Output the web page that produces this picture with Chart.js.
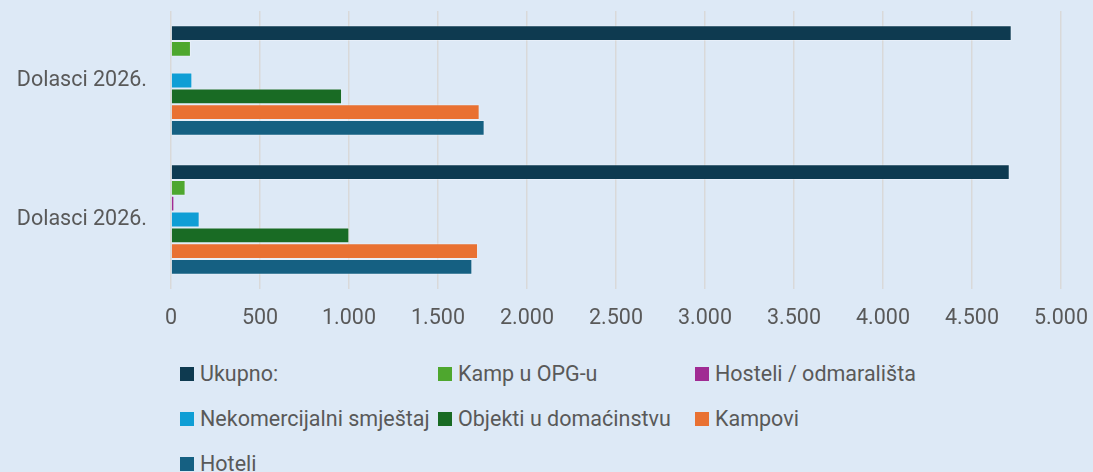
<!DOCTYPE html>
<html>
<head>
<meta charset="utf-8">
<script src="https://cdn.jsdelivr.net/npm/chart.js@4"></script>
<style>
  html, body { margin: 0; padding: 0; background: #dde9f6; }
  body { width: 1093px; height: 472px; position: relative; overflow: hidden; font-family: Roboto, sans-serif; }
  #wrap { position: absolute; left: 0; top: 0; width: 1093px; height: 345px; }
  #legend { position: absolute; left: 180px; top: 351px; display: grid; grid-template-columns: 258px 257px 257px; grid-auto-rows: 45px; }
  .item { display: flex; align-items: center; height: 45px; font-size: 21.5px; color: #595959; white-space: nowrap; }
  .box { width: 14px; height: 14px; margin-right: 6px; flex: none; }
</style>
</head>
<body>
<div id="wrap"><canvas id="chart"></canvas></div>
<div id="legend"></div>
<script>
var categories = ['Dolasci 2026.', 'Dolasci 2026.'];
var seriesNames = ['Ukupno:', 'Kamp u OPG-u', 'Hosteli / odmarališta', 'Nekomercijalni smještaj', 'Objekti u domaćinstvu', 'Kampovi', 'Hoteli'];
var seriesColors = ['#0e3a50', '#4ea72e', '#a02b93', '#0f9ed5', '#196b24', '#e97132', '#156082'];

var ukupno = [4723, 4712];
var kampOpg = [112, 82];
var hosteli = [4, 19];
var nekomercijalni = [120, 161];
var objekti = [961, 1002];
var kampovi = [1734, 1725];
var hoteli = [1762, 1693];
var seriesValues = [ukupno, kampOpg, hosteli, nekomercijalni, objekti, kampovi, hoteli];

var xTicks = [0, 500, 1000, 1500, 2000, 2500, 3000, 3500, 4000, 4500, 5000];

var textColor = '#595959';
var fontFamily = 'Roboto, sans-serif';

var datasets = seriesNames.map(function (name, i) {
  return {
    label: name,
    data: seriesValues[i],
    backgroundColor: seriesColors[i],
    borderColor: 'rgba(255,255,255,0.3)',
    borderWidth: 1,
    barPercentage: 1,
    categoryPercentage: 0.795
  };
});

var chart = new Chart(document.getElementById('chart'), {
  type: 'bar',
  data: { labels: categories, datasets: datasets },
  options: {
    indexAxis: 'y',
    animation: false,
    responsive: true,
    maintainAspectRatio: false,
    layout: { padding: { left: 0, right: 32, top: 11, bottom: 0 } },
    plugins: {
      legend: { display: false },
      tooltip: { enabled: false }
    },
    scales: {
      x: {
        type: 'linear',
        min: 0,
        max: 5000,
        afterBuildTicks: function (scale) {
          scale.ticks = xTicks.map(function (v) { return { value: v }; });
        },
        afterFit: function (scale) {
          scale.height = 56;
          scale.paddingLeft = 0;
          scale.paddingRight = 0;
        },
        grid: { color: '#d9d9d9', lineWidth: 1.5, drawTicks: false },
        border: { display: false },
        ticks: {
          padding: 17,
          color: textColor,
          font: { family: fontFamily, size: 21.5 },
          callback: function (v) { return v.toLocaleString('de-DE'); }
        }
      },
      y: {
        afterFit: function (scale) {
          scale.width = 171;
          scale.paddingTop = 0;
          scale.paddingBottom = 0;
        },
        grid: { display: false, drawTicks: false },
        border: { display: false },
        ticks: {
          padding: 24,
          color: textColor,
          font: { family: fontFamily, size: 21.5 }
        }
      }
    }
  }
});

var legend = document.getElementById('legend');
seriesNames.forEach(function (name, i) {
  var item = document.createElement('div');
  item.className = 'item';
  var box = document.createElement('span');
  box.className = 'box';
  box.style.background = seriesColors[i];
  var label = document.createElement('span');
  label.textContent = name;
  item.appendChild(box);
  item.appendChild(label);
  legend.appendChild(item);
});
</script>
</body>
</html>
